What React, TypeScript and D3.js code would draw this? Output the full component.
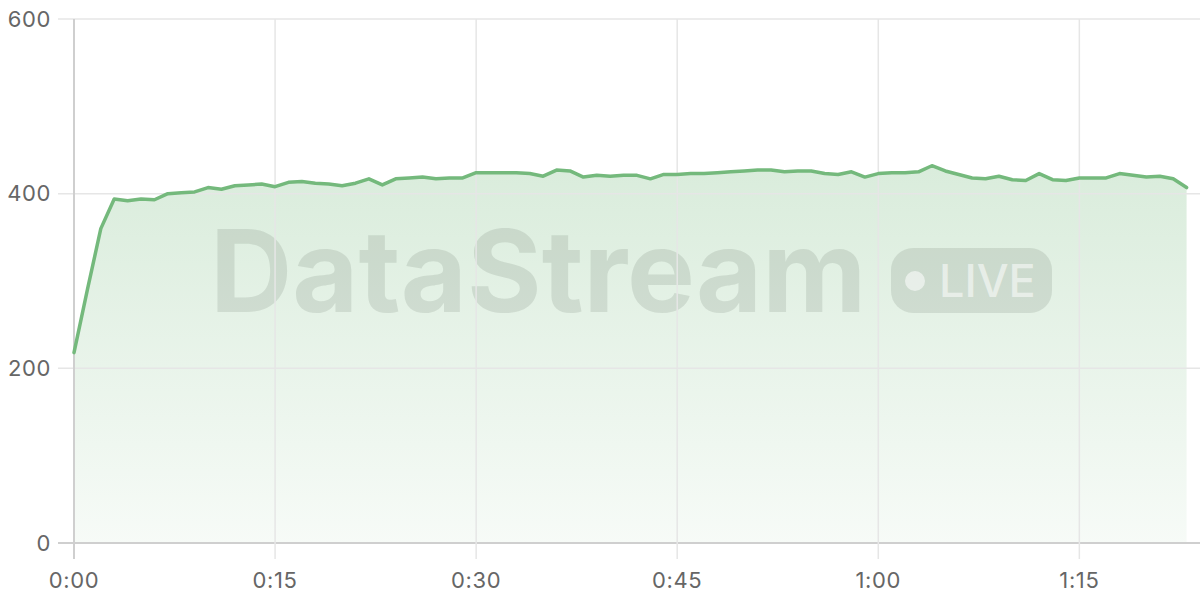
import React, { useRef, useEffect } from "react";
import * as d3 from "d3";

// minutes since start, one reading per minute
const minutes = d3.range(0, 84);
const values = [
  218, 290, 360, 394, 392, 394, 393, 400, 401, 402,
  407, 405, 409, 410, 411, 408, 413, 414, 412, 411,
  409, 412, 417, 410, 417, 418, 419, 417, 418, 418,
  424, 424, 424, 424, 423, 420, 427, 426, 419, 421,
  420, 421, 421, 417, 422, 422, 423, 423, 424, 425,
  426, 427, 427, 425, 426, 426, 423, 422, 425, 419,
  423, 424, 424, 425, 432, 426, 422, 418, 417, 420,
  416, 415, 423, 416, 415, 418, 418, 418, 423, 421,
  419, 420, 417, 407,
];
const yTicks = [0, 200, 400, 600];
const xTicks = [0, 15, 30, 45, 60, 75];
const xTickLabels = ["0:00", "0:15", "0:30", "0:45", "1:00", "1:15"];

const LINE = "#74b97c";
const FONT = "Inter, 'Noto Sans', sans-serif";

const App = () => {
  const svgRef = useRef(null);
  const width = 1200;
  const height = 600;

  useEffect(() => {
    const left = 74;
    const right = 1200;
    const top = 19;
    const bottom = 543;

    const svg = d3.select(svgRef.current);
    svg.selectAll("*").remove();

    const xScale = d3.scaleLinear().domain([0, 84]).range([left, right]);
    const yScale = d3.scaleLinear().domain([0, 600]).range([bottom, top]);

    const defs = svg.append("defs");
    const grad = defs
      .append("linearGradient")
      .attr("id", "areaFill")
      .attr("x1", 0)
      .attr("y1", 0)
      .attr("x2", 0)
      .attr("y2", 1);
    grad.append("stop").attr("offset", "0%").attr("stop-color", LINE).attr("stop-opacity", 0.27);
    grad.append("stop").attr("offset", "100%").attr("stop-color", LINE).attr("stop-opacity", 0.06);

    const data = minutes.map((m, i) => ({ m, v: values[i] }));

    // area under the line
    const area = d3
      .area()
      .x((d) => xScale(d.m))
      .y0(yScale(0))
      .y1((d) => yScale(d.v));
    svg.append("path").datum(data).attr("fill", "url(#areaFill)").attr("d", area);

    // watermark
    const wm = svg.append("g").attr("pointer-events", "none");
    wm.append("text")
      .attr("x", 210)
      .attr("y", 312)
      .style("font-family", FONT)
      .style("font-weight", 700)
      .style("font-size", "114px")
      .attr("fill", "#5f6b5f")
      .attr("fill-opacity", 0.16)
      .text("DataStream");
    wm.append("rect")
      .attr("x", 891)
      .attr("y", 248)
      .attr("width", 161)
      .attr("height", 65)
      .attr("rx", 22)
      .attr("fill", "#5f6b5f")
      .attr("fill-opacity", 0.16);
    wm.append("circle").attr("cx", 915).attr("cy", 281).attr("r", 10).attr("fill", "#ffffff").attr("fill-opacity", 0.55);
    wm.append("text")
      .attr("x", 939)
      .attr("y", 297)
      .style("font-family", FONT)
      .style("font-weight", 500)
      .style("font-size", "45px")
      .attr("fill", "#ffffff")
      .attr("fill-opacity", 0.55)
      .text("LIVE");

    // horizontal gridlines + y ticks
    yTicks.forEach((t) => {
      svg
        .append("line")
        .attr("x1", left - 16)
        .attr("x2", right)
        .attr("y1", yScale(t))
        .attr("y2", yScale(t))
        .attr("stroke", t === 0 ? "#cfcfcf" : "#e6e6e6")
        .attr("stroke-width", t === 0 ? 2 : 1.5);
      svg
        .append("text")
        .attr("x", 51)
        .attr("y", yScale(t))
        .attr("dy", "0.35em")
        .attr("text-anchor", "end")
        .style("font-family", FONT)
        .style("font-size", "22px")
        .style("letter-spacing", "0.6px")
        .attr("fill", "#666")
        .text(t);
    });

    // vertical gridlines + x ticks
    xTicks.forEach((t, i) => {
      svg
        .append("line")
        .attr("x1", xScale(t))
        .attr("x2", xScale(t))
        .attr("y1", top)
        .attr("y2", bottom + 16)
        .attr("stroke", i === 0 ? "#cfcfcf" : "#e6e6e6")
        .attr("stroke-width", i === 0 ? 2 : 1.5);
      svg
        .append("text")
        .attr("x", xScale(t))
        .attr("y", 580)
        .attr("dy", "0.35em")
        .attr("text-anchor", "middle")
        .style("font-family", FONT)
        .style("font-size", "22px")
        .style("letter-spacing", "0.6px")
        .attr("fill", "#666")
        .text(xTickLabels[i]);
    });

    // the line itself
    const line = d3
      .line()
      .x((d) => xScale(d.m))
      .y((d) => yScale(d.v));
    svg
      .append("path")
      .datum(data)
      .attr("fill", "none")
      .attr("stroke", LINE)
      .attr("stroke-width", 3.5)
      .attr("stroke-linejoin", "round")
      .attr("stroke-linecap", "round")
      .attr("d", line);
  }, []);

  return (
    <svg
      ref={svgRef}
      width={width}
      height={height}
      style={{ position: "absolute", left: 0, top: 0, background: "#fff" }}
    />
  );
};

export default App;
